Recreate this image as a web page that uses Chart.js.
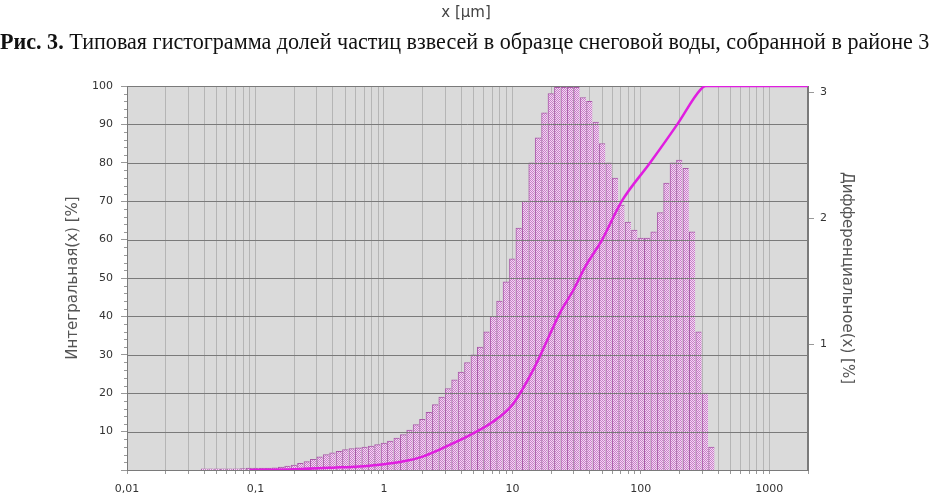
<!DOCTYPE html>
<html>
<head>
<meta charset="utf-8">
<script src="https://cdn.jsdelivr.net/npm/chart.js@4.4.1/dist/chart.umd.min.js"></script>
<style>
html, body { margin: 0; padding: 0; background: #fff; }
#wrap { position: relative; width: 932px; height: 497px; overflow: hidden; }
#chart { position: absolute; left: 0; top: 0; }
#xunit { position: absolute; top: 3px; left: 0; width: 932px; text-align: center; line-height: 1;
         font: 15px "DejaVu Sans", sans-serif; color: #444; }
#caption { position: absolute; top: 31px; left: 0; white-space: nowrap; line-height: 1;
           font-family: "Liberation Serif", serif; font-size: 21px; color: #111; }
</style>
</head>
<body>
<div id="wrap">
  <canvas id="chart" width="932" height="497"></canvas>
  <div id="xunit">x [µm]</div>
  <div id="caption"><b>Рис. 3.</b> Типовая гистограмма долей частиц взвесей в образце снеговой воды, собранной в районе 3</div>
</div>
<script>
// Histogram bins (class centres, µm) and differential share [%], right axis
const binCenters = [
    0.03981, 0.04467, 0.05012, 0.05623, 0.06310, 0.07079, 0.07943, 0.08913,
    0.1, 0.1122, 0.1259, 0.1413, 0.1585, 0.1778, 0.1995, 0.2239, 0.2512, 0.2818,
    0.3162, 0.3548, 0.3981, 0.4467, 0.5012, 0.5623, 0.6310, 0.7079, 0.7943, 0.8913,
    1, 1.122, 1.259, 1.413, 1.585, 1.778, 1.995, 2.239, 2.512, 2.818,
    3.162, 3.548, 3.981, 4.467, 5.012, 5.623, 6.310, 7.079, 7.943, 8.913,
    10, 11.22, 12.59, 14.13, 15.85, 17.78, 19.95, 22.39, 25.12, 28.18,
    31.62, 35.48, 39.81, 44.67, 50.12, 56.23, 63.10, 70.79, 79.43, 89.13,
    100, 112.2, 125.9, 141.3, 158.5, 177.8, 199.5, 223.9, 251.2, 281.8,
    316.2, 354.8
];
const diffValues = [
    0.009, 0.009, 0.009, 0.009, 0.009, 0.009, 0.012, 0.015,
    0.015, 0.015, 0.015, 0.018, 0.024, 0.031, 0.040, 0.052, 0.067, 0.085,
    0.104, 0.122, 0.137, 0.149, 0.162, 0.171, 0.177, 0.183, 0.189, 0.201,
    0.214, 0.229, 0.253, 0.281, 0.317, 0.360, 0.403, 0.458, 0.519, 0.580,
    0.647, 0.717, 0.778, 0.854, 0.915, 0.976, 1.098, 1.220, 1.342, 1.495,
    1.678, 1.922, 2.135, 2.440, 2.638, 2.837, 2.989, 3.040, 3.040, 3.040,
    3.040, 2.959, 2.928, 2.763, 2.593, 2.440, 2.318, 2.105, 1.970, 1.906,
    1.842, 1.842, 1.891, 2.044, 2.278, 2.440, 2.461, 2.397, 1.891, 1.098,
    0.610, 0.183
];

// Cumulative curve, left axis [%]
const cumX = [0.09, 0.2, 0.4, 0.7, 1, 1.5, 2, 3, 5, 7, 10, 15, 20, 23.5, 30, 37, 50, 71, 118, 192, 290, 320, 2000];
const cumY = [0, 0.2, 0.6, 1.0, 1.5, 2.4, 3.5, 6, 9.6, 12.5, 17, 27, 36, 41, 47, 53, 60, 70, 80, 90, 99, 100, 100];

// Axis ticks
const xDecades = [0.01, 0.1, 1, 10, 100, 1000];
const xTickLabels = ['0,01', '0,1', '1', '10', '100', '1000'];
const leftTicks = [10, 20, 30, 40, 50, 60, 70, 80, 90, 100];
const rightTicks = [1, 2, 3];

const ctx = document.getElementById('chart').getContext('2d');

// fine checker fill like the original histogram
function makePattern() {
    const c = document.createElement('canvas');
    c.width = 2;
    c.height = 2;
    const g = c.getContext('2d');
    g.fillStyle = '#f6d2f6';
    g.fillRect(0, 0, 2, 2);
    g.fillStyle = '#c684c6';
    g.fillRect(0, 0, 1, 1);
    g.fillRect(1, 1, 1, 1);
    return ctx.createPattern(c, 'repeat');
}

const plotFrame = {
    id: 'plotFrame',
    beforeDraw(chart) {
        const a = chart.chartArea;
        const g = chart.ctx;
        g.save();
        g.fillStyle = '#dadada';
        g.fillRect(a.left, a.top, a.right - a.left, a.bottom - a.top);
        g.restore();
    },
    afterDatasetDraw(chart, args) {
        if (args.meta.type !== 'bar') return;
        const a = chart.chartArea;
        const y = chart.scales.y;
        const g = chart.ctx;
        g.save();
        g.strokeStyle = '#7a7a7a';
        g.lineWidth = 1;
        g.beginPath();
        leftTicks.forEach(v => {
            const py = Math.round(y.getPixelForValue(v)) + 0.5;
            g.moveTo(a.left, py);
            g.lineTo(a.right, py);
        });
        g.stroke();
        // minor ticks on the left axis
        g.strokeStyle = '#999';
        g.beginPath();
        for (let v = 2; v < 100; v += 2) {
            if (v % 10 === 0) continue;
            const py = Math.round(y.getPixelForValue(v)) + 0.5;
            g.moveTo(a.left - 3, py);
            g.lineTo(a.left, py);
        }
        g.stroke();
        g.strokeStyle = '#7a7a7a';
        g.strokeRect(Math.round(a.left) + 0.5, Math.round(a.top) + 0.5,
            Math.round(a.right - a.left) - 1, Math.round(a.bottom - a.top));
        g.restore();
    }
};

const tickFont = { family: '"DejaVu Sans", sans-serif', size: 11 };
const titleFont = { family: '"DejaVu Sans", sans-serif', size: 15 };

new Chart(ctx, {
    type: 'bar',
    plugins: [plotFrame],
    data: {
        datasets: [
            {
                type: 'line',
                label: 'Интегральная',
                data: cumX.map((x, i) => ({ x: x, y: cumY[i] })),
                yAxisID: 'y',
                borderColor: '#e01ee0',
                borderWidth: 2.5,
                pointRadius: 0,
                cubicInterpolationMode: 'monotone',
                fill: false
            },
            {
                type: 'bar',
                label: 'Дифференциальное',
                data: binCenters.map((x, i) => ({ x: x, y: diffValues[i] })),
                yAxisID: 'y2',
                backgroundColor: makePattern(),
                borderColor: '#a85aa8',
                borderWidth: { top: 1, left: 1, right: 0, bottom: 0 },
                borderSkipped: 'start',
                barPercentage: 1,
                categoryPercentage: 1
            }
        ]
    },
    options: {
        responsive: false,
        animation: false,
        layout: { padding: { top: 86, left: 0, right: 0, bottom: 0 } },
        plugins: {
            legend: { display: false },
            tooltip: { enabled: false }
        },
        scales: {
            x: {
                type: 'logarithmic',
                position: 'bottom',
                min: 0.01,
                max: 2000,
                offset: false,
                afterFit: s => { s.height = 27; },
                afterBuildTicks: s => {
                    const t = [];
                    xDecades.forEach(d => {
                        for (let m = 1; m <= 9; m++) {
                            const v = m === 1 ? d : d * m;
                            if (v <= 2000) t.push({ value: v });
                        }
                    });
                    t.push({ value: 2000 });
                    s.ticks = t;
                },
                ticks: {
                    autoSkip: false,
                    maxRotation: 0,
                    padding: 9,
                    color: '#333',
                    font: tickFont,
                    callback: v => {
                        const i = xDecades.indexOf(v);
                        return i >= 0 ? xTickLabels[i] : '';
                    }
                },
                grid: { offset: false, color: '#b5b5b5', tickColor: '#999', tickLength: 4 },
                border: { display: true, color: '#7a7a7a' }
            },
            y: {
                position: 'left',
                min: 0,
                max: 100,
                afterFit: s => { s.width = 127; },
                afterBuildTicks: s => { s.ticks = [0].concat(leftTicks).map(v => ({ value: v })); },
                ticks: {
                    padding: 8,
                    color: '#333',
                    font: tickFont,
                    callback: v => (v === 0 ? '' : String(v))
                },
                grid: { drawOnChartArea: false, tickLength: 6, tickColor: '#999' },
                border: { display: true, color: '#7a7a7a' },
                title: {
                    display: true,
                    text: 'Интегральная(x) [%]',
                    color: '#555',
                    font: titleFont,
                    padding: { top: 64, bottom: 0 }
                }
            },
            y2: {
                position: 'right',
                min: 0,
                max: 3.05,
                afterFit: s => { s.width = 124; },
                afterBuildTicks: s => { s.ticks = rightTicks.map(v => ({ value: v })); },
                ticks: {
                    padding: 6,
                    color: '#333',
                    font: tickFont,
                    callback: v => String(v)
                },
                grid: { drawOnChartArea: false, tickLength: 6, tickColor: '#999' },
                border: { display: true, color: '#7a7a7a' },
                title: {
                    display: true,
                    text: 'Дифференциальное(x) [%]',
                    color: '#555',
                    font: titleFont,
                    padding: { top: 76, bottom: 0 }
                }
            }
        }
    }
});

// stretch the caption across the page width like in the source figure
const cap = document.getElementById('caption');
const w = cap.getBoundingClientRect().width;
cap.style.fontSize = (21 * 930 / w).toFixed(2) + 'px';
</script>
</body>
</html>
